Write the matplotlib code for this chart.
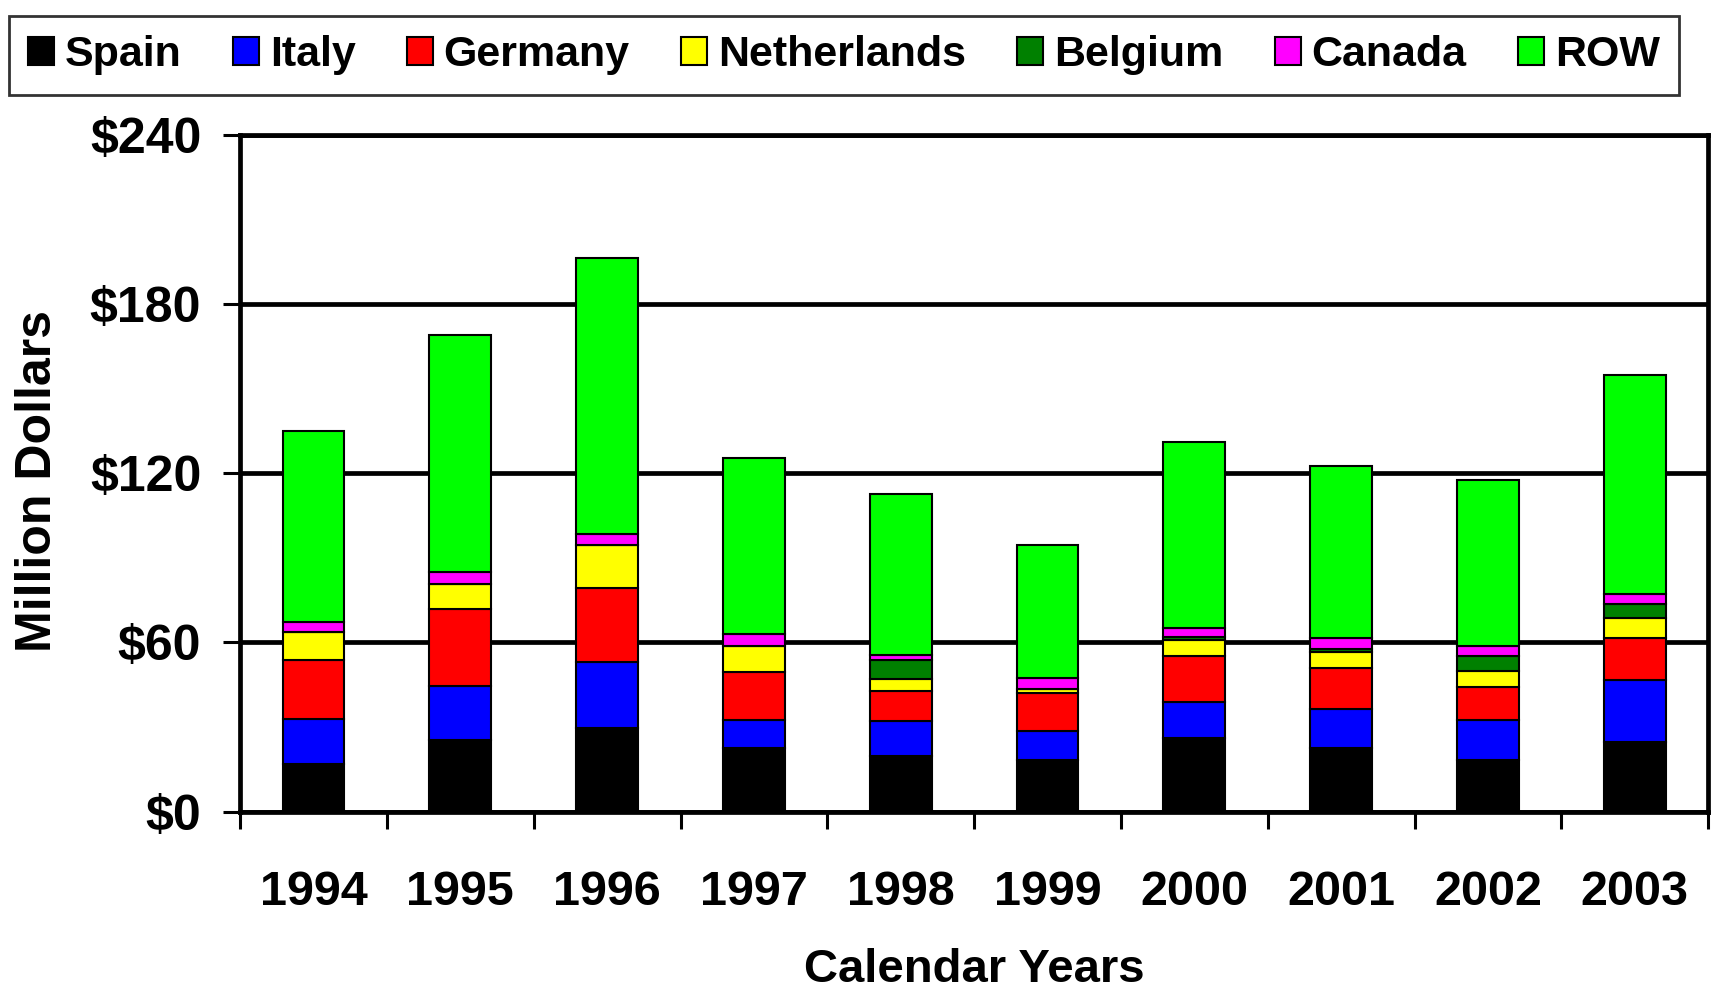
import matplotlib
matplotlib.use("Agg")
import matplotlib.pyplot as plt
import numpy as np

plt.rcParams['font.family'] = ['Liberation Sans', 'DejaVu Sans']
plt.rcParams['font.weight'] = 'bold'

# Data (million dollars)
years = ['1994', '1995', '1996', '1997', '1998', '1999', '2000', '2001', '2002', '2003']
spain = [17.0, 25.4, 29.5, 22.6, 19.6, 18.2, 26.2, 22.6, 18.2, 24.6]
italy = [16.0, 19.0, 23.6, 9.7, 12.5, 10.4, 12.5, 13.9, 14.1, 21.9]
germany = [20.7, 27.6, 26.2, 17.1, 10.6, 13.5, 16.4, 14.3, 12.0, 14.9]
netherlands = [9.9, 8.7, 15.1, 9.2, 4.4, 1.4, 5.6, 5.7, 5.7, 7.1]
belgium = [0.0, 0.0, 0.0, 0.0, 6.5, 0.0, 1.2, 1.2, 5.1, 5.1]
canada = [3.6, 4.2, 4.2, 4.3, 2.0, 3.8, 3.1, 3.8, 3.6, 3.7]
row = [67.8, 84.0, 97.8, 62.3, 57.0, 47.4, 66.0, 61.0, 58.8, 77.6]

series = [
    ('Spain', spain, '#000000'),
    ('Italy', italy, '#0000FF'),
    ('Germany', germany, '#FF0000'),
    ('Netherlands', netherlands, '#FFFF00'),
    ('Belgium', belgium, '#008000'),
    ('Canada', canada, '#FF00FF'),
    ('ROW', row, '#00FF00'),
]

fig = plt.figure(figsize=(17.15, 9.94), dpi=100)
ax = fig.add_axes([0.140, 0.1835, 0.856, 0.681])

x = np.arange(len(years))
bottom = np.zeros(len(years))
handles = []
for name, vals, color in series:
    vals = np.array(vals)
    b = ax.bar(x, vals, width=0.42, bottom=bottom, color=color,
               edgecolor='black', linewidth=1.5, label=name, zorder=3)
    handles.append(b)
    bottom += vals

ax.set_xlim(-0.5, len(years) - 0.5)
ax.set_ylim(0, 240)
ax.set_yticks([0, 60, 120, 180, 240])
ax.set_yticklabels(['$0', '$60', '$120', '$180', '$240'])
ax.set_xticks(x)
ax.set_xticklabels(years)
ax.set_xticks(np.arange(-0.5, len(years), 1.0), minor=True)

# horizontal gridlines behind bars
ax.yaxis.grid(True, color='black', linewidth=3.4, zorder=0)
ax.set_axisbelow(True)

for s in ax.spines.values():
    s.set_linewidth(3.4)
    s.set_color('black')

ax.tick_params(axis='y', which='major', direction='out', length=12, width=2.2,
               labelsize=36, pad=16)
ax.tick_params(axis='x', which='major', length=0, labelsize=35, pad=42)
ax.tick_params(axis='x', which='minor', direction='out', length=12, width=2.2)
for lbl in ax.get_xticklabels() + ax.get_yticklabels():
    lbl.set_fontweight('bold')

ax.set_xlabel('Calendar Years', fontsize=34, fontweight='bold', labelpad=24)
fig.text(0.022, 0.516, 'Million Dollars', rotation=90, fontsize=36,
         fontweight='bold', ha='center', va='center')

leg = fig.legend(handles=handles, loc='upper left', ncol=7, mode='expand',
                 bbox_to_anchor=(0.0051, 0.912, 0.974, 0.072),
                 fontsize=31, frameon=True, fancybox=False,
                 handlelength=0.6, handleheight=0.6, handletextpad=0.25,
                 columnspacing=1.0, borderpad=0.45, borderaxespad=0)
leg.get_frame().set_edgecolor('black')
leg.get_frame().set_linewidth(2)
for t in leg.get_texts():
    t.set_fontweight('bold')

plt.savefig('out.png', dpi=100)
